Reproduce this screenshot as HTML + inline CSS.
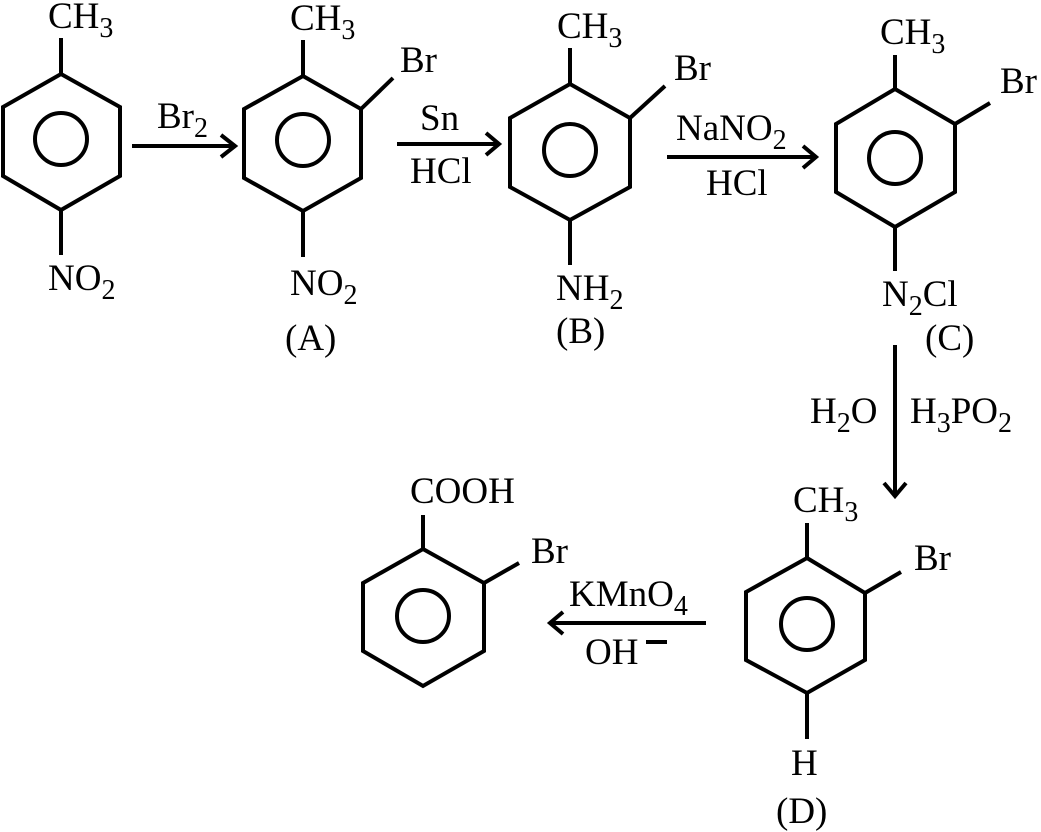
<!DOCTYPE html>
<html><head><meta charset="utf-8"><style>
html,body{margin:0;padding:0;background:#fff;}
svg{display:block}
text{font-family:"Liberation Serif",serif;font-size:37px;fill:#000}
.s{font-size:28px}
</style></head><body>
<svg width="1041" height="832" viewBox="0 0 1041 832" xmlns="http://www.w3.org/2000/svg">
<g fill="none" stroke="#000" stroke-width="4" stroke-linejoin="miter">
<polygon points="61,74 120,107 120,176 61,210 3,176 3,107"/>
<circle cx="61" cy="139" r="26"/>
<line x1="61" y1="38" x2="61" y2="74"/>
<line x1="61" y1="210" x2="61" y2="255"/>
<polygon points="303,76 361,109 361,178 303,211 244,178 244,109"/>
<circle cx="303" cy="140" r="26"/>
<line x1="303" y1="40" x2="303" y2="76"/>
<line x1="361" y1="109" x2="393" y2="78"/>
<line x1="303" y1="211" x2="303" y2="257"/>
<polygon points="570,84 630,118 630,187 570,220 510,187 510,118"/>
<circle cx="570" cy="150" r="26"/>
<line x1="570" y1="48" x2="570" y2="84"/>
<line x1="630" y1="118" x2="665" y2="86"/>
<line x1="570" y1="220" x2="570" y2="265"/>
<polygon points="895,89 955,124 955,192 895,227 836,192 836,124"/>
<circle cx="895" cy="158" r="26"/>
<line x1="895" y1="55" x2="895" y2="89"/>
<line x1="955" y1="124" x2="990" y2="103"/>
<line x1="895" y1="227" x2="895" y2="271"/>
<polygon points="807,558 865,593 865,660 807,693 746,660 746,592"/>
<circle cx="807" cy="624" r="26"/>
<line x1="807" y1="523" x2="807" y2="558"/>
<line x1="865" y1="593" x2="901" y2="572"/>
<line x1="807" y1="693" x2="807" y2="739"/>
<polygon points="423,549 484,583 484,651 423,686 363,651 363,583"/>
<circle cx="423" cy="616" r="26"/>
<line x1="423" y1="515" x2="423" y2="549"/>
<line x1="484" y1="583" x2="519" y2="563"/>
<line x1="132" y1="146" x2="234" y2="146"/>
<polyline points="221,135 235,146 221,157"/>
<line x1="397" y1="144" x2="498" y2="144"/>
<polyline points="486,133 499,144 486,155"/>
<line x1="667" y1="157" x2="815" y2="157"/>
<polyline points="803,146 816,157 803,168"/>
<line x1="895" y1="345" x2="895" y2="495"/>
<polyline points="884,483 895,496 906,483"/>
<line x1="706" y1="623" x2="551" y2="623"/>
<polyline points="563,612 550,623 563,634"/>
<line x1="646" y1="642" x2="667" y2="642"/>
</g>
<text x="48" y="28">CH<tspan class="s" dy="9">3</tspan></text>
<text x="48" y="290">NO<tspan class="s" dy="9">2</tspan></text>
<text x="157" y="128">Br<tspan class="s" dy="9">2</tspan></text>
<text x="290" y="30">CH<tspan class="s" dy="9">3</tspan></text>
<text x="400" y="72">Br</text>
<text x="290" y="295">NO<tspan class="s" dy="9">2</tspan></text>
<text x="285" y="350">(A)</text>
<text x="420" y="130">Sn</text>
<text x="410" y="183">HCl</text>
<text x="557" y="38">CH<tspan class="s" dy="9">3</tspan></text>
<text x="674" y="80">Br</text>
<text x="556" y="300">NH<tspan class="s" dy="9">2</tspan></text>
<text x="556" y="343">(B)</text>
<text x="676" y="140">NaNO<tspan class="s" dy="9">2</tspan></text>
<text x="706" y="195">HCl</text>
<text x="880" y="44">CH<tspan class="s" dy="9">3</tspan></text>
<text x="1000" y="93">Br</text>
<text x="882" y="306">N<tspan class="s" dy="9">2</tspan><tspan dy="-9">Cl</tspan></text>
<text x="925" y="350">(C)</text>
<text x="810" y="423">H<tspan class="s" dy="9">2</tspan><tspan dy="-9">O</tspan></text>
<text x="910" y="423">H<tspan class="s" dy="9">3</tspan><tspan dy="-9">PO</tspan><tspan class="s" dy="9">2</tspan></text>
<text x="793" y="512">CH<tspan class="s" dy="9">3</tspan></text>
<text x="914" y="570">Br</text>
<text x="791" y="775">H</text>
<text x="776" y="823">(D)</text>
<text x="569" y="606">KMnO<tspan class="s" dy="9">4</tspan></text>
<text x="585" y="664">OH</text>
<text x="410" y="503">COOH</text>
<text x="531" y="563">Br</text>
</svg>
</body></html>
